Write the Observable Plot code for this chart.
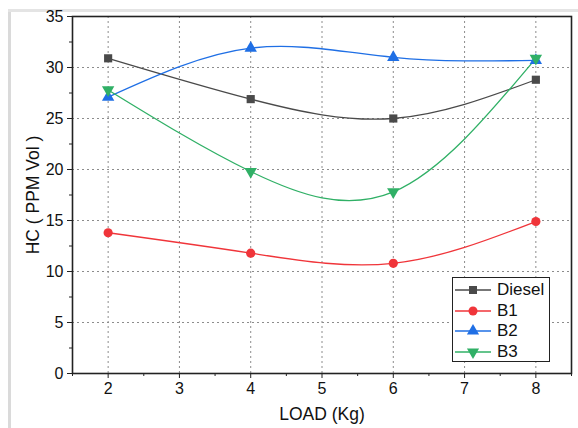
<!DOCTYPE html>
<html>
<head>
<meta charset="utf-8">
<script src="https://cdn.jsdelivr.net/npm/d3@7"></script>
<script src="https://cdn.jsdelivr.net/npm/@observablehq/plot@0.6"></script>
<style>
  body { margin: 0; background: #fff; font-family: "Liberation Sans", Arial, sans-serif; }
  #wrap { position: relative; width: 578px; height: 428px; overflow: hidden; }
  #wrap .edge-left { position: absolute; left: 8px; top: 9px; width: 3px; height: 419px; background: #dadada; }
  #wrap .edge-top { position: absolute; left: 8px; top: 9px; width: 570px; height: 3px; background: #e4e4e4; }
  #chart { position: absolute; left: 0; top: 0; }
  #legend { position: absolute; left: 452px; top: 277px; width: 98px; height: 85px; border: 1px solid #222; background: #fff; box-sizing: border-box; }
  #legend .row { position: absolute; left: 0; height: 20px; display: flex; align-items: center; font-size: 17px; color: #111; }
  #legend svg { margin-left: 2px; margin-right: 6px; }
</style>
</head>
<body>
<div id="wrap">
  <div class="edge-left"></div>
  <div class="edge-top"></div>
  <div id="chart"></div>
  <div id="legend"></div>
</div>
<script>
// Engine load (kg) and HC emissions (ppm vol) per fuel blend
const loads = [2, 4, 6, 8];
const seriesNames = ["Diesel", "B1", "B2", "B3"];
const diesel = [30.9, 26.9, 25.0, 28.8];
const b1 = [13.8, 11.8, 10.8, 14.9];
const b2 = [27.1, 31.9, 31.0, 30.7];
const b3 = [27.8, 19.8, 17.8, 30.9];
const xTicks = [2, 3, 4, 5, 6, 7, 8];
const yTicks = [0, 5, 10, 15, 20, 25, 30, 35];

const colors = ["#4a4a4a", "#f0353a", "#1f6fe5", "#30b066"];

// downward-pointing triangle, same footprint as d3.symbolTriangle
const triangleDown = {
  draw(context, size) {
    const y = -Math.sqrt(size / (Math.sqrt(3) * 3));
    context.moveTo(0, -y * 2);
    context.lineTo(-Math.sqrt(3) * y, y);
    context.lineTo(Math.sqrt(3) * y, y);
    context.closePath();
  }
};
const symbols = [d3.symbolSquare, d3.symbolCircle, d3.symbolTriangle, triangleDown];

const valuesBySeries = [diesel, b1, b2, b3];
const rows = seriesNames.flatMap((name, i) =>
  loads.map((x, j) => ({series: name, load: x, hc: valuesBySeries[i][j]}))
);

const xMinor = d3.range(1.5, 8.51, 0.5).filter(v => !xTicks.includes(v));
const yMinor = d3.range(2.5, 35, 5);

const chart = Plot.plot({
  width: 578,
  height: 428,
  marginLeft: 72,
  marginRight: 7,
  marginTop: 16,
  marginBottom: 55,
  style: {fontFamily: "'Liberation Sans', Arial, sans-serif", fontSize: "16px", background: "transparent", color: "#111"},
  x: {domain: [1.5, 8.5]},
  y: {domain: [0, 35]},
  color: {domain: seriesNames, range: colors},
  symbol: {domain: seriesNames, range: symbols},
  marks: [
    Plot.gridX(xTicks, {stroke: "#8c8c8c", strokeOpacity: 1, strokeDasharray: "2,3"}),
    Plot.gridY(yTicks.filter(d => d > 0 && d < 35), {stroke: "#8c8c8c", strokeOpacity: 1, strokeDasharray: "2,3"}),
    Plot.axisX({ticks: xMinor, tickSize: 3, text: null, label: null, stroke: "#222"}),
    Plot.axisY({ticks: yMinor, tickSize: 3, text: null, label: null, stroke: "#222"}),
    Plot.axisX({ticks: xTicks, tickFormat: d => String(d), tickSize: 5, tickPadding: 4, fontSize: 16, label: "LOAD (Kg)", labelAnchor: "center", labelArrow: "none", labelOffset: 46, stroke: "#222"}),
    Plot.axisY({ticks: yTicks, tickFormat: d => String(d), tickSize: 5, tickPadding: 4, fontSize: 16, label: "HC ( PPM Vol )", labelAnchor: "center", labelArrow: "none", labelOffset: 46, stroke: "#222"}),
    Plot.line(rows, {x: "load", y: "hc", z: "series", stroke: "series", curve: "natural", strokeWidth: 1.3}),
    Plot.dot(rows, {x: "load", y: "hc", fill: "series", symbol: "series", r: 4.6, stroke: "none"}),
    Plot.frame({stroke: "#222", strokeWidth: 1.6})
  ]
});

// axis titles a bit larger than the tick labels
chart.querySelectorAll("g[aria-label='x-axis label'], g[aria-label='y-axis label']").forEach(g => {
  g.setAttribute("font-size", "17.5");
  g.querySelectorAll("text").forEach(t => t.setAttribute("font-size", "17.5"));
});

document.getElementById("chart").appendChild(chart);

// legend box drawn from the series names and their styles
const legend = d3.select("#legend");
seriesNames.forEach((name, i) => {
  const row = legend.append("div").attr("class", "row").style("top", `${2 + i * 20.5}px`);
  const sw = row.append("svg").attr("width", 36).attr("height", 20);
  sw.append("line").attr("x1", 0).attr("x2", 36).attr("y1", 10).attr("y2", 10)
    .attr("stroke", colors[i]).attr("stroke-width", 1.3);
  sw.append("path").attr("d", d3.symbol(symbols[i], 64)()).attr("fill", colors[i])
    .attr("transform", "translate(18,10)");
  row.append("span").text(name);
});
</script>
</body>
</html>
